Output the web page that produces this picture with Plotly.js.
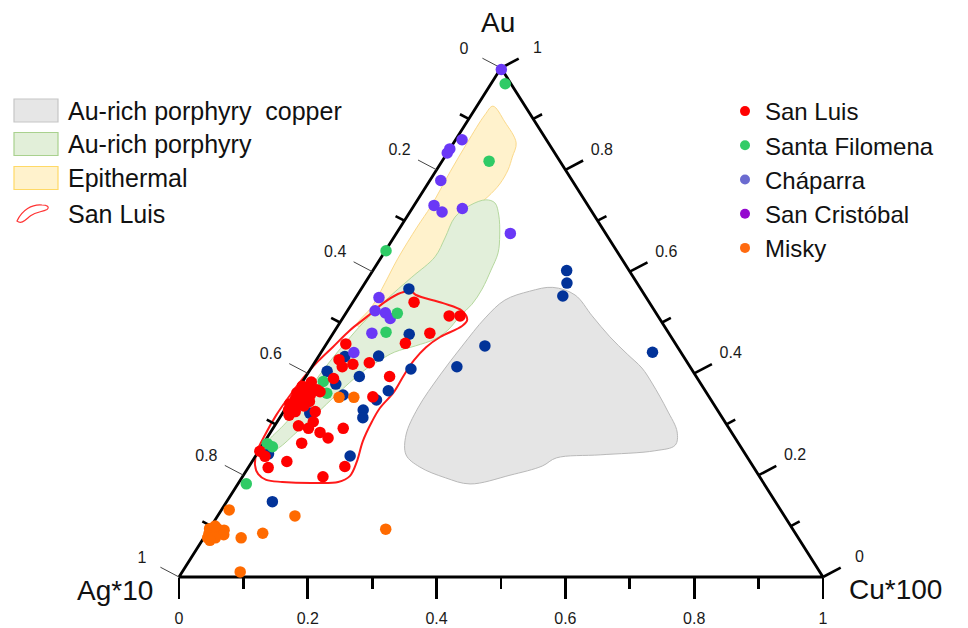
<!DOCTYPE html>
<html><head><meta charset="utf-8">
<script src="https://cdn.plot.ly/plotly-3.0.1.min.js"></script>
<style>html,body{margin:0;padding:0;background:#fff}#chart{width:968px;height:628px}</style>
</head><body><div id="chart"></div>
<script>
// ===== DATA (ternary proportions Au : Ag*10 : Cu*100) =====
// San Luis (red)
const sanLuisAu = [0.540,0.513,0.513,0.479,0.459,0.458,0.427,0.413,0.418,0.421,0.394,0.390,0.383,0.364,0.354,0.325,0.305,0.292,0.297,0.284,0.273,0.263,0.292,0.227,0.215,0.217,0.197,0.247,0.237,0.375,0.372,0.362,0.360,0.358,0.350,0.348,0.340,0.338,0.336,0.328,0.325,0.345,0.318,0.368];
const sanLuisAg = [0.365,0.324,0.307,0.371,0.419,0.512,0.538,0.540,0.521,0.494,0.476,0.565,0.603,0.599,0.522,0.626,0.639,0.653,0.666,0.639,0.632,0.678,0.599,0.719,0.754,0.634,0.678,0.751,0.748,0.621,0.610,0.636,0.626,0.617,0.644,0.632,0.658,0.650,0.638,0.666,0.657,0.625,0.670,0.602];
const sanLuisCu = [0.095,0.163,0.180,0.150,0.122,0.030,0.035,0.047,0.061,0.085,0.130,0.045,0.014,0.037,0.124,0.049,0.056,0.055,0.037,0.077,0.095,0.059,0.109,0.054,0.031,0.149,0.125,0.002,0.015,0.004,0.018,0.002,0.014,0.025,0.006,0.020,0.002,0.012,0.026,0.006,0.018,0.030,0.012,0.030];
// Santa Filomena (green)
const santaFilomenaAu = [0.969,0.817,0.641,0.518,0.481,0.384,0.361,0.262,0.256,0.183];
const santaFilomenaAg = [0.009,0.110,0.358,0.402,0.438,0.584,0.590,0.732,0.727,0.804];
const santaFilomenaCu = [0.022,0.073,0.001,0.080,0.081,0.032,0.049,0.006,0.017,0.013];
// Cháparra (violet points)
const chaparraAu = [0.997,0.859,0.841,0.833,0.779,0.730,0.717,0.724,0.675,0.549,0.523,0.519,0.508,0.479,0.441];
const chaparraAg = [0.001,0.131,0.159,0.167,0.204,0.239,0.233,0.198,0.148,0.415,0.434,0.420,0.418,0.461,0.508];
const chaparraCu = [0.002,0.010,0.000,0.000,0.017,0.031,0.050,0.078,0.177,0.036,0.043,0.061,0.074,0.060,0.051];
// San Cristóbal (dark blue points)
const sanCristobalAu = [0.566,0.477,0.454,0.434,0.433,0.409,0.413,0.404,0.394,0.379,0.366,0.358,0.348,0.328,0.313,0.238,0.242,0.148,0.602,0.578,0.552,0.442,0.322];
const sanCristobalAg = [0.360,0.404,0.298,0.473,0.526,0.436,0.362,0.568,0.523,0.567,0.492,0.567,0.520,0.550,0.558,0.616,0.740,0.781,0.097,0.109,0.128,0.044,0.636];
const sanCristobalCu = [0.074,0.119,0.248,0.093,0.041,0.156,0.225,0.028,0.083,0.054,0.142,0.076,0.133,0.122,0.129,0.147,0.018,0.071,0.301,0.314,0.320,0.515,0.042];
// Misky (orange)
const miskyAu = [0.353,0.353,0.132,0.120,0.077,0.086,0.094,0.010,0.095,0.095,0.092,0.085,0.085,0.083,0.077,0.077,0.100,0.072];
const miskyAg = [0.575,0.552,0.857,0.760,0.865,0.827,0.632,0.900,0.905,0.893,0.884,0.911,0.899,0.889,0.917,0.905,0.894,0.916];
const miskyCu = [0.072,0.095,0.012,0.120,0.058,0.087,0.274,0.090,0.000,0.012,0.024,0.004,0.016,0.028,0.006,0.018,0.006,0.012];

// Fields (outline vertices)
const cuPorphyryAu = [0.569,0.554,0.513,0.472,0.438,0.411,0.381,0.328,0.285,0.259,0.248,0.240,0.234,0.218,0.200,0.183,0.195,0.216,0.240,0.279,0.332,0.397,0.454,0.509,0.544,0.562];
const cuPorphyryAg = [0.135,0.108,0.102,0.095,0.085,0.076,0.075,0.078,0.084,0.100,0.137,0.226,0.297,0.327,0.386,0.457,0.489,0.518,0.528,0.508,0.463,0.396,0.334,0.270,0.222,0.175];
const cuPorphyryCu = [0.296,0.338,0.385,0.433,0.477,0.514,0.544,0.594,0.631,0.641,0.615,0.534,0.469,0.455,0.414,0.361,0.316,0.266,0.233,0.213,0.205,0.207,0.213,0.221,0.234,0.264];

const auPorphyryAu = [0.741,0.735,0.711,0.672,0.637,0.603,0.566,0.536,0.513,0.485,0.468,0.454,0.442,0.426,0.403,0.360,0.320,0.283,0.250,0.252,0.267,0.297,0.328,0.362,0.399,0.434,0.464,0.499,0.544,0.589,0.629,0.666,0.707,0.731];
const auPorphyryAg = [0.153,0.142,0.148,0.166,0.186,0.214,0.247,0.277,0.307,0.340,0.369,0.406,0.444,0.475,0.514,0.575,0.627,0.677,0.726,0.739,0.728,0.690,0.653,0.620,0.582,0.542,0.507,0.465,0.407,0.344,0.288,0.254,0.218,0.183];
const auPorphyryCu = [0.106,0.123,0.141,0.162,0.177,0.183,0.188,0.187,0.180,0.175,0.164,0.140,0.114,0.099,0.083,0.066,0.053,0.040,0.024,0.009,0.005,0.013,0.019,0.018,0.020,0.024,0.029,0.036,0.049,0.067,0.083,0.080,0.075,0.087];

const epithermalAu = [0.925,0.894,0.853,0.825,0.800,0.772,0.747,0.717,0.666,0.619,0.570,0.521,0.491,0.495,0.532,0.578,0.625,0.688,0.729,0.796,0.853,0.908];
const epithermalAg = [0.050,0.047,0.050,0.070,0.089,0.116,0.147,0.190,0.243,0.288,0.352,0.415,0.464,0.476,0.434,0.391,0.348,0.287,0.244,0.181,0.126,0.071];
const epithermalCu = [0.025,0.059,0.097,0.105,0.111,0.112,0.106,0.093,0.091,0.093,0.078,0.064,0.045,0.029,0.034,0.031,0.027,0.026,0.027,0.023,0.021,0.021];

const sanLuisFieldAu = [0.560,0.562,0.554,0.538,0.523,0.505,0.493,0.472,0.452,0.426,0.397,0.362,0.332,0.305,0.267,0.226,0.198,0.187,0.185,0.187,0.191,0.202,0.220,0.246,0.279,0.318,0.358,0.395,0.424,0.452,0.485,0.511,0.538,0.556];
const sanLuisFieldAg = [0.371,0.359,0.355,0.321,0.299,0.300,0.314,0.359,0.391,0.422,0.452,0.487,0.522,0.548,0.581,0.611,0.635,0.660,0.700,0.747,0.770,0.776,0.772,0.756,0.727,0.690,0.648,0.607,0.572,0.535,0.492,0.453,0.414,0.382];
const sanLuisFieldCu = [0.069,0.079,0.091,0.141,0.178,0.195,0.193,0.170,0.158,0.152,0.151,0.152,0.146,0.147,0.152,0.163,0.166,0.154,0.116,0.067,0.040,0.022,0.008,-0.002,-0.006,-0.008,-0.006,-0.002,0.004,0.013,0.023,0.036,0.048,0.062];

// Axis ticks
const edgeMajor = [0, 0.2, 0.4, 0.6, 0.8, 1];
const edgeMajorText = ['0', '0.2', '0.4', '0.6', '0.8', '1'];
const edgeMinor = [0.1, 0.3, 0.5, 0.7, 0.9];

// ===== GEOMETRY HELPERS =====
const FONT = 'Liberation Sans, Arial, Helvetica, sans-serif';
const FIG_W = 968, FIG_H = 628;
const X0 = 179, X1 = 823, YB = 577, YT = 68;      // triangle placement in px
const PXW = X1 - X0, PXH = YB - YT;
function tx(au, ag, cu) { const s = au + ag + cu; return (cu + au / 2) / s; }
function ty(au, ag, cu) { const s = au + ag + cu; return au / s; }
function proj(au, ag, cu) {
  return { x: au.map((a, i) => tx(a, ag[i], cu[i])), y: au.map((a, i) => ty(a, ag[i], cu[i])) };
}
function ring(p) { return { x: p.x.concat([p.x[0]]), y: p.y.concat([p.y[0]]) }; }
// tick helpers (pixel offsets converted to data units)
const dirL = [-0.885, -0.466], dirR = [0.885, -0.466];
function ticks(pts, dir, len) {
  const xs = [], ys = [];
  pts.forEach(p => { xs.push(p.x, p.x + dir[0] * len / PXW, null); ys.push(p.y, p.y - dir[1] * len / PXH, null); });
  return { x: xs, y: ys };
}
const leftPt = v => ({ x: tx(1 - v, v, 0), y: ty(1 - v, v, 0) });   // Ag value on left edge
const rightPt = v => ({ x: tx(v, 0, 1 - v), y: ty(v, 0, 1 - v) });  // Au value on right edge
const px2x = p => p / FIG_W, py2y = p => 1 - p / FIG_H;

const traces = [];
function field(au, ag, cu, fill, line, name) {
  const r = ring(proj(au, ag, cu));
  traces.push({ type: 'scatter', mode: 'lines', x: r.x, y: r.y, fill: 'toself', fillcolor: fill,
    line: { color: line, width: 1, shape: 'spline', smoothing: 1 }, name: name, showlegend: false, hoverinfo: 'skip' });
}
field(cuPorphyryAu, cuPorphyryAg, cuPorphyryCu, '#e5e5e5', '#b9b9b9', 'Au-rich porphyry copper');
field(epithermalAu, epithermalAg, epithermalCu, '#fff2cc', '#fbd98a', 'Epithermal');
field(auPorphyryAu, auPorphyryAg, auPorphyryCu, '#e2efda', '#b5d89e', 'Au-rich porphyry');
(function () {
  const r = ring(proj(sanLuisFieldAu, sanLuisFieldAg, sanLuisFieldCu));
  traces.push({ type: 'scatter', mode: 'lines', x: r.x, y: r.y, line: { color: '#ff1a1a', width: 2, shape: 'spline', smoothing: 1 },
    name: 'San Luis field', showlegend: false, hoverinfo: 'skip' });
})();

// Triangle frame
const vAu = [1, 0, 0, 1], vAg = [0, 1, 0, 0], vCu = [0, 0, 1, 0];
const frame = proj(vAu, vAg, vCu);
traces.push({ type: 'scatter', mode: 'lines', x: frame.x, y: frame.y, line: { color: '#000', width: 2.8 }, showlegend: false, hoverinfo: 'skip' });

// Edge ticks
const lMaj = ticks(edgeMajor.map(leftPt), dirL, 21);
const lMin = ticks(edgeMinor.map(leftPt), dirL, 10);
const rMaj = ticks(edgeMajor.map(rightPt), dirR, 20);
const rMin = ticks(edgeMinor.map(rightPt), dirR, 10);
traces.push({ type: 'scatter', mode: 'lines', x: lMaj.x, y: lMaj.y, line: { color: '#444', width: 1 }, showlegend: false, hoverinfo: 'skip' });
traces.push({ type: 'scatter', mode: 'lines', x: lMin.x, y: lMin.y, line: { color: '#000', width: 2.6 }, showlegend: false, hoverinfo: 'skip' });
traces.push({ type: 'scatter', mode: 'lines', x: rMaj.x, y: rMaj.y, line: { color: '#000', width: 2.6 }, showlegend: false, hoverinfo: 'skip' });
traces.push({ type: 'scatter', mode: 'lines', x: rMin.x, y: rMin.y, line: { color: '#000', width: 2.6 }, showlegend: false, hoverinfo: 'skip' });
// Edge tick labels
const lLab = edgeMajor.map(leftPt), rLab = edgeMajor.map(rightPt);
traces.push({ type: 'scatter', mode: 'text', x: lLab.map(p => p.x - 37 / PXW), y: lLab.map(p => p.y + 18.5 / PXH), text: edgeMajorText,
  textposition: 'middle center', textfont: { family: FONT, size: 16, color: '#1a1a1a' }, cliponaxis: false, showlegend: false, hoverinfo: 'skip' });
traces.push({ type: 'scatter', mode: 'text', x: rLab.map(p => p.x + 36.5 / PXW), y: rLab.map(p => p.y + 19 / PXH), text: edgeMajorText,
  textposition: 'middle center', textfont: { family: FONT, size: 16, color: '#1a1a1a' }, cliponaxis: false, showlegend: false, hoverinfo: 'skip' });

// Data points
function pts(au, ag, cu, color, name) {
  const p = proj(au, ag, cu);
  traces.push({ type: 'scatter', mode: 'markers', x: p.x, y: p.y, name: name, legendgroup: name, showlegend: false,
    marker: { color: color, size: 11.5, line: { width: 0 } }, cliponaxis: false,
    hovertemplate: name + '<extra></extra>' });
}
pts(sanCristobalAu, sanCristobalAg, sanCristobalCu, '#023399', 'San Cristóbal');
pts(chaparraAu, chaparraAg, chaparraCu, '#6a38f6', 'Cháparra');
pts(santaFilomenaAu, santaFilomenaAg, santaFilomenaCu, '#2fcb66', 'Santa Filomena');
pts(sanLuisAu, sanLuisAg, sanLuisCu, '#ff0000', 'San Luis');
pts(miskyAu, miskyAg, miskyCu, '#ff6a00', 'Misky');

// Legend entries (symbol colors as in the figure legend)
const legendNames = ['San Luis', 'Santa Filomena', 'Cháparra', 'San Cristóbal', 'Misky'];
const legendColors = ['#ff0000', '#33cc66', '#6b6bd0', '#9409cf', '#ff6a10'];
legendNames.forEach((n, i) => traces.push({ type: 'scatter', mode: 'markers', x: [null], y: [null], name: n, legendgroup: n,
  legend: 'legend2', showlegend: true, marker: { color: legendColors[i], size: 10 } }));

// Left legend (field swatches)
const fieldLegend = [
  { text: 'Au-rich porphyry\u00a0 copper', fill: '#e6e6e6', line: '#c6c6c6', y: 110.5 },
  { text: 'Au-rich porphyry', fill: '#e2efd9', line: '#a9d18e', y: 144 },
  { text: 'Epithermal', fill: '#fff2cc', line: '#ffd966', y: 178 },
  { text: 'San Luis', fill: null, line: '#ff3333', y: 213.5 }
];
const shapes = [], annotations = [];
fieldLegend.forEach((f, i) => {
  if (f.fill) {
    shapes.push({ type: 'rect', xref: 'paper', yref: 'paper', x0: px2x(14), x1: px2x(58), y0: py2y(f.y + 11.5), y1: py2y(f.y - 11.5),
      fillcolor: f.fill, line: { color: f.line, width: 1.2 }, layer: 'above' });
  } else {
    const P = (a, b) => px2x(a).toFixed(5) + ',' + py2y(b).toFixed(5);
    shapes.push({ type: 'path', xref: 'paper', yref: 'paper',
      path: 'M' + P(17, 221) + ' C' + P(22, 210) + ' ' + P(32, 204) + ' ' + P(42, 205) + ' C' + P(47, 205) + ' ' + P(50, 207) + ' ' + P(47, 209.5) +
        ' C' + P(42, 212) + ' ' + P(36, 212) + ' ' + P(31, 215.5) + ' C' + P(26, 219) + ' ' + P(22, 225) + ' ' + P(17, 221) + ' Z',
      line: { color: f.line, width: 1.2 }, fillcolor: 'rgba(0,0,0,0)', layer: 'above' });
  }
  annotations.push({ xref: 'paper', yref: 'paper', x: px2x(66), y: py2y(f.y), xanchor: 'left', yanchor: 'middle', text: f.text,
    showarrow: false, font: { family: FONT, size: 25, color: '#111' } });
});
// Vertex titles
annotations.push({ xref: 'paper', yref: 'paper', x: px2x(497.5), y: py2y(22.5), xanchor: 'center', yanchor: 'middle', text: 'Au', showarrow: false, font: { family: FONT, size: 28, color: '#111' } });
annotations.push({ xref: 'paper', yref: 'paper', x: px2x(115), y: py2y(590), xanchor: 'center', yanchor: 'middle', text: 'Ag*10', showarrow: false, font: { family: FONT, size: 28, color: '#111' } });
annotations.push({ xref: 'paper', yref: 'paper', x: px2x(895), y: py2y(589), xanchor: 'center', yanchor: 'middle', text: 'Cu*100', showarrow: false, font: { family: FONT, size: 28, color: '#111' } });

const layout = {
  width: FIG_W, height: FIG_H,
  margin: { l: 0, r: 0, t: 0, b: 0, pad: 0, autoexpand: false },
  paper_bgcolor: '#ffffff', plot_bgcolor: 'rgba(0,0,0,0)',
  showlegend: true,
  xaxis: {
    range: [-X0 / PXW, 1 + (FIG_W - X1) / PXW], anchor: 'free', position: (FIG_H - YB) / FIG_H, side: 'bottom',
    showgrid: false, zeroline: false, showline: false, fixedrange: true,
    tickmode: 'array', tickvals: edgeMajor, ticktext: edgeMajorText,
    ticks: 'outside', ticklen: 21, tickwidth: 2.6, tickcolor: '#000', ticklabelstandoff: 6,
    tickfont: { family: FONT, size: 16, color: '#1a1a1a' },
    minor: { tickmode: 'array', tickvals: edgeMinor, ticks: 'outside', ticklen: 11, tickwidth: 2.6, tickcolor: '#000', showgrid: false }
  },
  yaxis: { range: [-(FIG_H - YB) / PXH, YB / PXH], visible: false, fixedrange: true },
  legend2: {
    x: px2x(725), xanchor: 'left', y: py2y(89), yanchor: 'top', orientation: 'v',
    font: { family: FONT, size: 24, color: '#111' }, bgcolor: 'rgba(0,0,0,0)', borderwidth: 0,
    itemsizing: 'trace', tracegroupgap: 0
  },
  shapes: shapes, annotations: annotations
};
Plotly.newPlot('chart', traces, layout, { displayModeBar: false, staticPlot: true });
</script>
</body></html>
